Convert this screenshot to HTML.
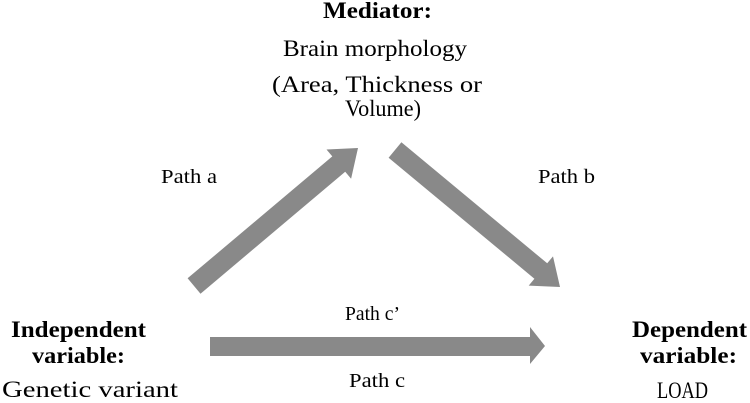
<!DOCTYPE html>
<html><head><style>
html,body{margin:0;padding:0;background:#fff;}
svg{display:block}
text{font-family:"Liberation Serif","Times New Roman","DejaVu Serif",serif;font-size:23px;fill:#000}
.b{font-weight:bold}
.p{font-size:20px}
</style></head><body>
<svg width="750" height="403" viewBox="0 0 750 403">
<g fill="#898989">
<polygon points="187.6,278.3 332.3,156.4 326.5,149.5 358,148 351.1,178.7 345.2,171.8 200.5,293.7"/>
<polygon points="401.4,142.3 547.2,263.3 553,256.4 560,287 528.7,285.6 534.4,278.7 388.6,157.7"/>
<polygon points="210,337 530,337 530,327 545,346 530,364 530,356 210,356"/>
</g>
<text class="b" x="323" y="18" textLength="109" lengthAdjust="spacingAndGlyphs">Mediator:</text>
<text x="283" y="56" textLength="184" lengthAdjust="spacingAndGlyphs">Brain morphology</text>
<text x="272" y="92" textLength="210" lengthAdjust="spacingAndGlyphs">(Area, Thickness or</text>
<text x="345" y="116" textLength="76" lengthAdjust="spacingAndGlyphs">Volume)</text>
<text class="p" x="161" y="183" textLength="56" lengthAdjust="spacingAndGlyphs">Path a</text>
<text class="p" x="538" y="183" textLength="57" lengthAdjust="spacingAndGlyphs">Path b</text>
<text class="p" x="345" y="320" textLength="55" lengthAdjust="spacingAndGlyphs">Path c’</text>
<text class="p" x="349" y="387" textLength="56" lengthAdjust="spacingAndGlyphs">Path c</text>
<text class="b" x="11" y="337" textLength="135" lengthAdjust="spacingAndGlyphs">Independent</text>
<text class="b" x="32" y="363" textLength="93" lengthAdjust="spacingAndGlyphs">variable:</text>
<text x="2" y="397" textLength="176" lengthAdjust="spacingAndGlyphs">Genetic variant</text>
<text class="b" x="632" y="337" textLength="115" lengthAdjust="spacingAndGlyphs">Dependent</text>
<text class="b" x="640" y="363" textLength="97" lengthAdjust="spacingAndGlyphs">variable:</text>
<text x="657" y="398" textLength="51" lengthAdjust="spacingAndGlyphs">LOAD</text>
</svg>
</body></html>
